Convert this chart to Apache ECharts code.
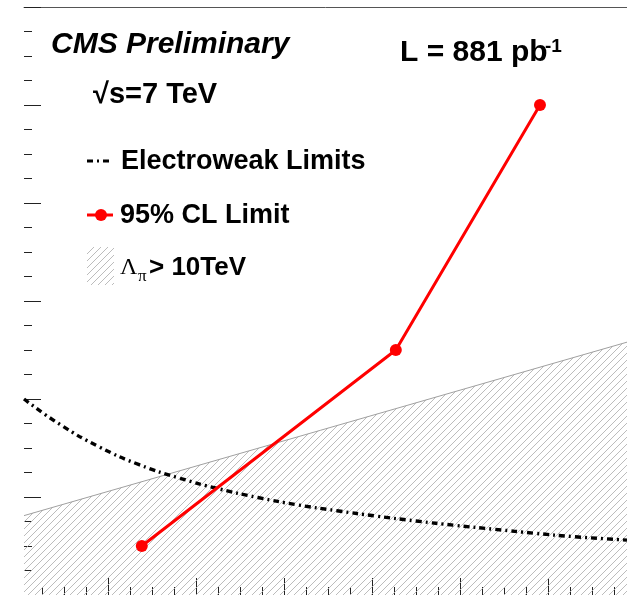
<!DOCTYPE html>
<html>
<head>
<meta charset="utf-8">
<script src="https://cdn.jsdelivr.net/npm/echarts@6/dist/echarts.min.js"></script>
<style>
html,body{margin:0;padding:0;background:#fff;}
#chart{width:627px;height:595px;}
</style>
</head>
<body>
<div id="chart"></div>
<script>
// ---- data ----
const xRange = [4, 690];
const yRange = [0, 600];
const xMajorTicks = [100, 200, 300, 400, 500, 600];
const xMinorTicks = [25, 50, 75, 125, 150, 175, 225, 250, 275, 325, 350, 375, 425, 450, 475, 525, 550, 575, 625, 650, 675];
const ewX = [4, 45, 90, 135, 180, 225, 270, 315, 360, 405, 450, 495, 540, 585, 630, 690];
const ewY = [200, 174, 151, 133, 119.5, 108.5, 99.5, 92, 86, 80.5, 75.5, 71, 67, 63, 59.5, 56];
const limitX = [138, 427, 591];
const limitY = [50, 250, 500];
const hatchX = [4, 341, 690];
const hatchY = [81, 168, 258];

const zip = (a, b) => a.map((v, i) => [v, b[i]]);

function hatchCanvas(w, h) {
  const c = document.createElement('canvas');
  c.width = w; c.height = h;
  const g = c.getContext('2d');
  g.strokeStyle = '#b4b4b4';
  g.lineWidth = 0.9;
  g.beginPath();
  for (let k = -h; k < w + h; k += 7) {
    g.moveTo(k - 1, h + 1);
    g.lineTo(k + h + 1, -1);
  }
  g.stroke();
  return c;
}
const tile = hatchCanvas(7, 7);
const legendHatch = hatchCanvas(27, 38);

const chart = echarts.init(document.getElementById('chart'), null, {renderer: 'canvas'});
const tickColor = '#222';

chart.setOption({
  animation: false,
  backgroundColor: '#fff',
  grid: {left: 24, right: 0, top: 7, bottom: 0, outerBoundsMode: 'none', containLabel: false},
  xAxis: [
    {type: 'value', min: xRange[0], max: xRange[1], position: 'bottom',
     axisLine: {show: false}, axisLabel: {show: false}, splitLine: {show: false},
     axisTick: {show: true, inside: true, length: 8, customValues: xMinorTicks, lineStyle: {color: tickColor, width: 1}}},
    {type: 'value', min: xRange[0], max: xRange[1], position: 'bottom',
     axisLine: {show: false}, axisLabel: {show: false}, splitLine: {show: false},
     axisTick: {show: true, inside: true, length: 17, customValues: xMajorTicks, lineStyle: {color: tickColor, width: 1}}},
    {type: 'value', min: xRange[0], max: xRange[1], position: 'top',
     axisLine: {show: true, lineStyle: {color: '#555', width: 1}}, axisLabel: {show: false},
     axisTick: {show: false}, splitLine: {show: false}}
  ],
  yAxis: {
    type: 'value', min: yRange[0], max: yRange[1], interval: 100,
    axisLine: {show: false}, axisLabel: {show: false}, splitLine: {show: false},
    axisTick: {show: true, inside: true, length: 17, lineStyle: {color: tickColor, width: 1}},
    minorTick: {show: true, splitNumber: 4, length: 8, lineStyle: {color: tickColor, width: 1}},
    minorSplitLine: {show: false}
  },
  series: [
    {name: 'hatch', type: 'line', xAxisIndex: 0, data: zip(hatchX, hatchY), symbol: 'none', z: 1,
     lineStyle: {color: '#a0a0a0', width: 1},
     areaStyle: {color: {image: tile, repeat: 'repeat'}, opacity: 1}},
    {name: 'Electroweak Limits', type: 'line', xAxisIndex: 0, data: zip(ewX, ewY), symbol: 'none', smooth: true, z: 3,
     lineStyle: {color: '#000', width: 3.4, type: [6, 4, 2, 4], cap: 'butt'}},
    {name: '95% CL Limit', type: 'line', xAxisIndex: 0, data: zip(limitX, limitY), symbol: 'circle', symbolSize: 12, z: 4,
     itemStyle: {color: '#ff0000'}, lineStyle: {color: '#ff0000', width: 3}}
  ],
  graphic: [
    {type: 'text', x: 51, y: 45, style: {text: 'CMS Preliminary', font: 'italic bold 30px "Liberation Sans"', fill: '#000', verticalAlign: 'middle'}},
    {type: 'text', x: 93, y: 95, style: {text: '√s=7 TeV', font: 'bold 29px "Liberation Sans"', fill: '#000', verticalAlign: 'middle'}},
    {type: 'text', x: 400, y: 53, style: {text: 'L = 881 pb', font: 'bold 30px "Liberation Sans"', fill: '#000', verticalAlign: 'middle'}},
    {type: 'text', x: 545, y: 47, style: {text: '-1', font: 'bold 19px "Liberation Sans"', fill: '#000', verticalAlign: 'middle'}},
    {type: 'line', shape: {x1: 87, y1: 161, x2: 113, y2: 161}, style: {stroke: '#000', lineWidth: 3, lineDash: [6, 4, 2, 4]}},
    {type: 'text', x: 121, y: 162, style: {text: 'Electroweak Limits', font: 'bold 27px "Liberation Sans"', fill: '#000', verticalAlign: 'middle'}},
    {type: 'line', shape: {x1: 87, y1: 215, x2: 113, y2: 215}, style: {stroke: '#ff0000', lineWidth: 3}},
    {type: 'circle', shape: {cx: 101, cy: 215, r: 6}, style: {fill: '#ff0000'}},
    {type: 'text', x: 120, y: 216, style: {text: '95% CL Limit', font: 'bold 27px "Liberation Sans"', fill: '#000', verticalAlign: 'middle'}},
    {type: 'image', x: 87, y: 247, style: {image: legendHatch, width: 27, height: 38}},
    {type: 'text', x: 120, y: 268, style: {text: 'Λ', font: '24px "Liberation Serif"', fill: '#000', verticalAlign: 'middle'}},
    {type: 'text', x: 138, y: 277, style: {text: 'π', font: '17px "Liberation Serif"', fill: '#000', verticalAlign: 'middle'}},
    {type: 'text', x: 149, y: 268, style: {text: '> 10TeV', font: 'bold 26px "Liberation Sans"', fill: '#000', verticalAlign: 'middle'}}
  ]
});
</script>
</body>
</html>
